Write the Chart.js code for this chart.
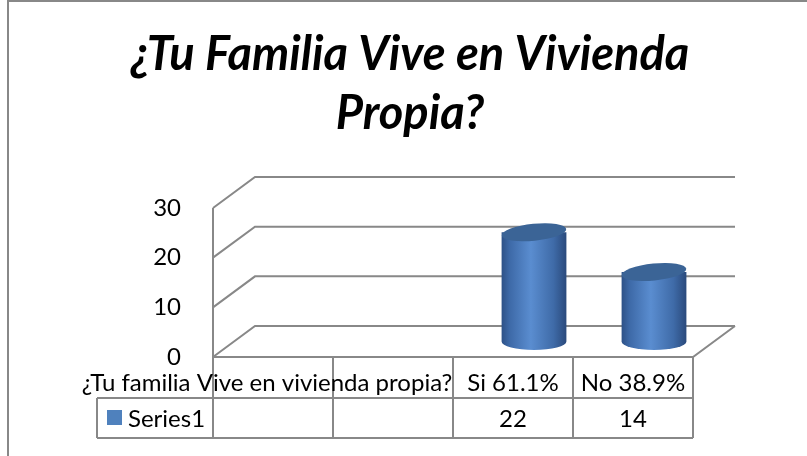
<!DOCTYPE html>
<html>
<head>
<meta charset="utf-8">
<script src="https://cdn.jsdelivr.net/npm/chart.js@4/dist/chart.umd.min.js"></script>
<style>
  html, body { margin: 0; background: #fff; }
  #wrap { width: 807px; height: 456px; position: relative; }
</style>
</head>
<body>
<div id="wrap"><canvas id="chart"></canvas></div>
<script>
const titleLines = ['¿Tu Familia Vive en Vivienda', 'Propia?'];
const categories = ['¿Tu familia Vive en vivienda propia?', '', 'Si 61.1%', 'No 38.9%'];
const seriesName = 'Series1';
const values = [null, null, 22, 14];
const yTicks = [0, 10, 20, 30];

const FONT = 'Lato, "Open Sans", sans-serif';
const GRID = '#888888';
const DX = 42, DY = -31;   // depth of the 3d box

function line(ctx, pts) {
  ctx.beginPath();
  ctx.moveTo(pts[0][0], pts[0][1]);
  for (let i = 1; i < pts.length; i++) ctx.lineTo(pts[i][0], pts[i][1]);
  ctx.stroke();
}

function cylinder(ctx, cx, top, base, rx, ry) {
  const g = ctx.createLinearGradient(cx - rx, 0, cx + rx, 0);
  g.addColorStop(0, '#2d5187');
  g.addColorStop(0.12, '#3d69a7');
  g.addColorStop(0.45, '#5a8dd0');
  g.addColorStop(0.8, '#3f6ba8');
  g.addColorStop(1, '#2a4a7c');
  ctx.fillStyle = g;
  ctx.beginPath();
  ctx.moveTo(cx - rx, top);
  ctx.lineTo(cx - rx, base);
  ctx.ellipse(cx, base, rx, ry, 0, Math.PI, 0, true);
  ctx.lineTo(cx + rx, top);
  ctx.closePath();
  ctx.fill();
  ctx.fillStyle = '#3b6496';
  ctx.beginPath();
  ctx.ellipse(cx, top, rx, ry, -0.1, 0, Math.PI * 2);
  ctx.fill();
}

const box3d = {
  id: 'box3d',
  beforeDatasetsDraw(chart) {
    const { ctx, chartArea: a, scales: { y } } = chart;
    ctx.save();
    ctx.strokeStyle = GRID;
    ctx.lineWidth = 2;
    yTicks.forEach(v => {
      const fy = y.getPixelForValue(v);
      line(ctx, [[a.left, fy], [a.left + DX, fy + DY], [a.right + DX, fy + DY]]);
    });
    const y0 = y.getPixelForValue(0);
    line(ctx, [[a.left, y.getPixelForValue(yTicks[yTicks.length - 1])], [a.left, y0], [a.right, y0], [a.right + DX, y0 + DY]]);
    ctx.restore();
  },
  afterDatasetsDraw(chart) {
    const { ctx } = chart;
    ctx.save();
    chart.getDatasetMeta(0).data.forEach((bar, i) => {
      if (values[i] == null) return;
      const rx = bar.width / 2;
      cylinder(ctx, bar.x + DX / 2, bar.y + DY / 2, bar.base + DY / 2, rx, 8.5);
    });
    ctx.restore();
  },
  afterDraw(chart) {
    const { ctx, chartArea: a, scales: { x } } = chart;
    ctx.save();
    // outer frame
    ctx.strokeStyle = GRID;
    ctx.lineWidth = 2;
    line(ctx, [[8, 456], [8, 1], [807, 1]]);

    // title
    ctx.fillStyle = '#000';
    ctx.textAlign = 'center';
    ctx.textBaseline = 'middle';
    ctx.font = 'italic bold 47px ' + FONT;
    titleLines.forEach((t, i) => ctx.fillText(t, 410, 55 + i * 59));

    // data table
    const cw = a.width / categories.length;
    const rowTop = a.bottom, rowMid = 398, rowBot = 438, legendLeft = 97;
    ctx.strokeStyle = GRID;
    ctx.lineWidth = 2;
    for (let i = 0; i <= categories.length; i++) {
      const xx = a.left + i * cw;
      line(ctx, [[xx, rowTop], [xx, rowBot]]);
    }
    line(ctx, [[legendLeft, rowMid], [a.right, rowMid]]);
    line(ctx, [[legendLeft, rowBot], [a.right, rowBot]]);
    line(ctx, [[legendLeft, rowMid], [legendLeft, rowBot]]);

    ctx.fillStyle = '#000';
    ctx.font = '24px ' + FONT;
    categories.forEach((c, i) => {
      const cx = x.getPixelForValue(i);
      ctx.fillText(c, i === 0 ? cx - 6 : cx, 383);
      if (values[i] != null) ctx.fillText(String(values[i]), cx, 419);
    });
    ctx.fillStyle = '#4f81bd';
    ctx.fillRect(107, 410, 15, 15);
    ctx.fillStyle = '#000';
    ctx.textAlign = 'left';
    ctx.fillText(seriesName, 128, 419);
    ctx.restore();
  }
};

new Chart(document.getElementById('chart'), {
  type: 'bar',
  data: {
    labels: categories,
    datasets: [{
      label: seriesName,
      data: values,
      backgroundColor: 'rgba(0,0,0,0)',
      borderWidth: 0,
      categoryPercentage: 1,
      barPercentage: 0.54
    }]
  },
  options: {
    responsive: true,
    maintainAspectRatio: false,
    animation: false,
    layout: { padding: { left: 0, right: 114, top: 208, bottom: 99 } },
    scales: {
      x: { display: false },
      y: {
        min: 0,
        max: 30,
        afterFit(scale) { scale.width = 213; },
        grid: { display: false },
        border: { display: false },
        ticks: {
          stepSize: 10,
          padding: 24,
          color: '#000',
          font: { family: FONT, size: 24 }
        }
      }
    },
    plugins: {
      legend: { display: false },
      tooltip: { enabled: false },
      title: { display: false }
    }
  },
  plugins: [box3d]
});
</script>
</body>
</html>
